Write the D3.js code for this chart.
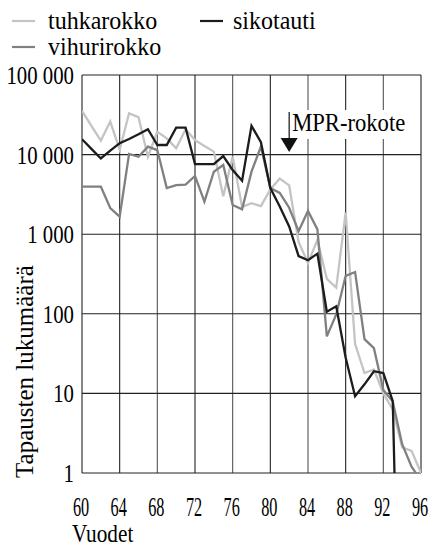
<!DOCTYPE html>
<html>
<head>
<meta charset="utf-8">
<script src="https://cdnjs.cloudflare.com/ajax/libs/d3/7.8.5/d3.min.js"></script>
</head>
<body style="margin:0">
<script>
// years on x axis
var years = [1960, 1961, 1962, 1963, 1964, 1965, 1966, 1967, 1968, 1969,
             1970, 1971, 1972, 1973, 1974, 1975, 1976, 1977, 1978, 1979,
             1980, 1981, 1982, 1983, 1984, 1985, 1986, 1987, 1988, 1989,
             1990, 1991, 1992, 1993, 1994, 1995, 1996]

// cases per year, 0 = no cases, null = not drawn
var tuhkarokko = [35500, 23000, 15000, 26000, 11500, 33000, 29500, 9400, 19300, 16000,
                  12000, 20800, 15200, 12800, 10900, 3000, 9400, 2200, 2450, 2250,
                  3650, 5000, 4100, 800, 435, 850, 275, 213, 1870, 42,
                  18, 20, 10, 6.3, 2.1, 1.9, 1]
var sikotauti = [15600, 11800, 8950, 11200, 13900, 15700, 18000, 20800, 13200, 13200,
                 21800, 21800, 7600, 7600, 7600, 9600, 6400, 4700, 23000, 14300,
                 3800, 2230, 1250, 530, 470, 570, 106, 124, 28, 9.2,
                 13, 19, 18, 8, 0, null, null]
var vihurirokko = [3970, 3970, 3970, 2130, 1660, 10200, 9400, 12600, 11400, 3800,
                   4140, 4200, 5400, 2560, 6100, 7400, 2330, 2050, 6100, 12600,
                   3800, 3300, 2150, 1090, 1960, 1150, 52, 98, 300, 335,
                   48, 37, 11, 7.9, 2.3, 1.2, 0.8]

var seriesNames = ["tuhkarokko", "vihurirokko", "sikotauti"]
var seriesColors = ["#c4c4c4", "#808080", "#1c1c1c"]

var xTicks = [1960, 1964, 1968, 1972, 1976, 1980, 1984, 1988, 1992, 1996]
var xTickLabels = ["60", "64", "68", "72", "76", "80", "84", "88", "92", "96"]
var yTicks = [1, 10, 100, 1000, 10000, 100000]
var yTickLabels = ["1", "10", "100", "1 000", "10 000", "100 000"]

var vaccineYear = 1982
var vaccineLabel = "MPR-rokote"

var width = 435, height = 546
var margin = {top: 75, right: 14, bottom: 73, left: 82}

var svg = d3.select("body").append("svg")
    .attr("width", width)
    .attr("height", height)
    .style("display", "block")

var x = d3.scaleLinear()
    .domain([1960, 1996])
    .range([margin.left, width - margin.right])
var y = d3.scaleLog()
    .domain([1, 100000])
    .range([height - margin.bottom, margin.top])

// log scale can't show 0, so push zero years way below the axis and clip
var zeroFloor = 1e-4

var defs = svg.append("defs")
defs.append("clipPath").attr("id", "plotclip")
  .append("rect")
    .attr("x", margin.left)
    .attr("y", margin.top)
    .attr("width", x.range()[1] - margin.left)
    .attr("height", y.range()[0] - margin.top)
// path for the vertical title (goes upward, so text reads bottom to top)
defs.append("path")
    .attr("id", "ytitlepath")
    .attr("d", "M33,478 L33,240")

// grid
var grid = svg.append("g").attr("class", "grid")
grid.selectAll(".vline")
    .data(xTicks)
    .enter().append("line")
    .attr("x1", d => x(d)).attr("x2", d => x(d))
    .attr("y1", y(100000)).attr("y2", y(1))
    .attr("stroke", function(d, i) { return (i % 2 == 0 && i > 0 && i < 9) ? "#555" : "#222" })
    .attr("stroke-width", 1.1)
grid.selectAll(".hline")
    .data(yTicks)
    .enter().append("line")
    .attr("x1", x(1960)).attr("x2", x(1996))
    .attr("y1", d => y(d)).attr("y2", d => y(d))
    .attr("stroke", "#222")
    .attr("stroke-width", 1.1)

// lines
var allSeries = [tuhkarokko, vihurirokko, sikotauti]
var line = d3.line()
    .defined(d => d.v != null)
    .x(d => x(d.year))
    .y(d => y(d.v > 0 ? d.v : zeroFloor))

svg.append("g")
    .attr("clip-path", "url(#plotclip)")
  .selectAll(".serie")
    .data(allSeries)
    .enter().append("path")
    .attr("class", "serie")
    .attr("fill", "none")
    .attr("stroke", (d, i) => seriesColors[i])
    .attr("stroke-width", 2.3)
    .attr("stroke-linejoin", "miter")
    .attr("d", function(vals) {
      return line(years.map(function(yr, j) { return {year: yr, v: vals[j]} }))
    })

// serif text, squeezed with textLength (the original type is condensed)
function ctext(g, tx, ty, str, size, sx, anchor) {
  var t = g.append("text")
    .attr("x", tx)
    .attr("y", ty)
    .attr("text-anchor", anchor)
    .attr("font-family", "Liberation Serif")
    .attr("font-size", size)
    .text(str)
  if (sx != 1) {
    var w = t.node().getComputedTextLength()
    t.attr("textLength", w * sx).attr("lengthAdjust", "spacingAndGlyphs")
  }
  return t
}

// y tick labels
var yAxisG = svg.append("g")
yTicks.forEach(function(t, i) {
  ctext(yAxisG, 74, y(t) + 9, yTickLabels[i], 26, 0.8, "end")
})

// x tick labels
var xAxisG = svg.append("g")
xTicks.forEach(function(t, i) {
  ctext(xAxisG, x(t) - 1, 516, xTickLabels[i], 28, 0.58, "middle")
})

// axis titles
ctext(svg, 72, 542, "Vuodet", 25, 0.85, "start")
svg.append("text")
    .attr("font-family", "Liberation Serif")
    .attr("font-size", 25)
  .append("textPath")
    .attr("href", "#ytitlepath")
    .text("Tapausten lukumäärä")

// MPR annotation
var ax = x(vaccineYear)
svg.append("rect")
    .attr("x", ax + 2).attr("y", 110)
    .attr("width", 118).attr("height", 29)
    .attr("fill", "#fff")
svg.append("line")
    .attr("x1", ax).attr("x2", ax)
    .attr("y1", 112).attr("y2", 140)
    .attr("stroke", "#111").attr("stroke-width", 1.2)
svg.append("path")
    .attr("d", "M" + (ax - 8.5) + ",138 L" + (ax + 8.5) + ",138 L" + ax + ",152 Z")
    .attr("fill", "#111")
ctext(svg, ax + 3, 131, vaccineLabel, 26, 0.87, "start")

// legend
var legendPos = [{x: 12, y: 21}, {x: 12, y: 47}, {x: 200, y: 21}]
var legend = svg.append("g")
seriesNames.forEach(function(name, i) {
  var p = legendPos[i]
  legend.append("line")
      .attr("x1", p.x).attr("x2", p.x + 23)
      .attr("y1", p.y).attr("y2", p.y)
      .attr("stroke", seriesColors[i])
      .attr("stroke-width", 2.2)
  ctext(legend, p.x + 36 - (i == 2 ? 3 : 0), p.y + 8, name, 25, 0.96, "start")
})
</script>
</body>
</html>
